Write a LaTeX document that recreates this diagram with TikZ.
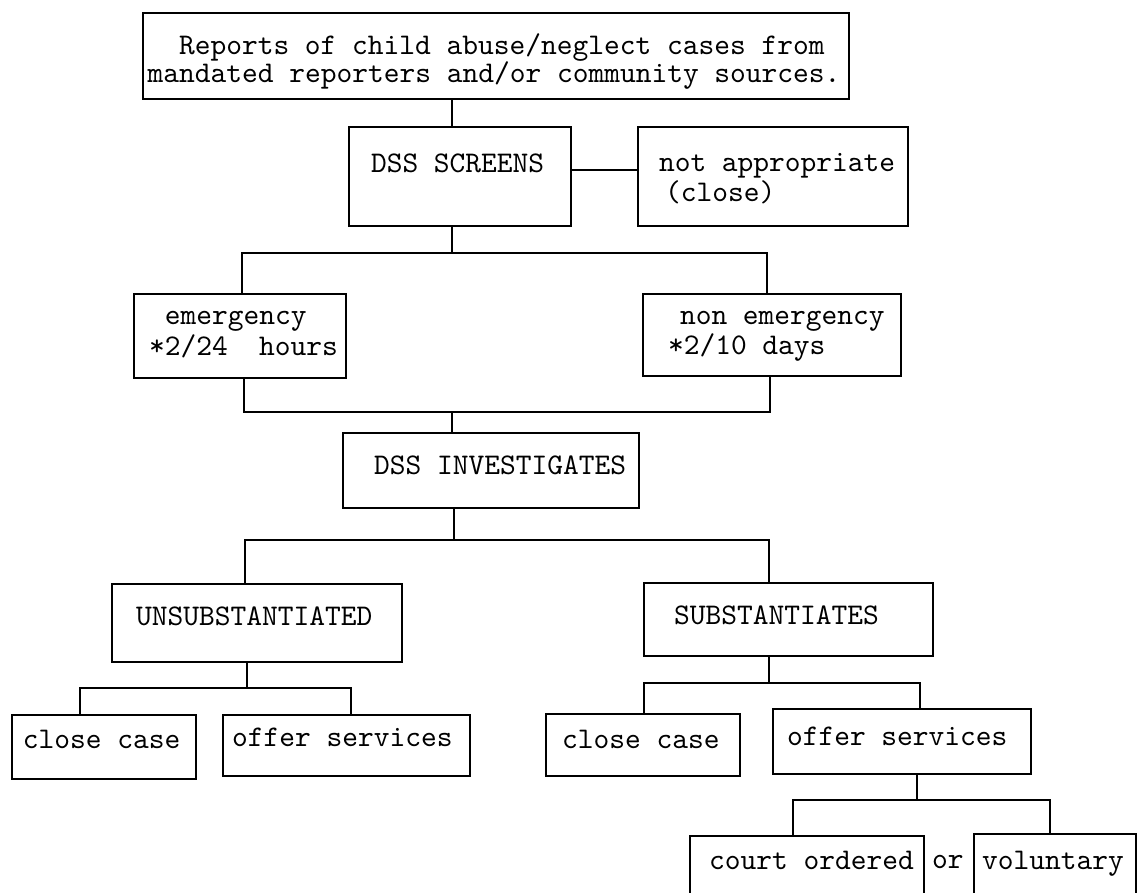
\documentclass[tikz,border=0pt]{standalone}
\font\tyface="[lmmono10-regular]" at 30pt
\fontdimen2\tyface=15.75pt
\fontdimen3\tyface=0pt
\fontdimen4\tyface=0pt
\newcommand{\tw}{\tyface\baselineskip=30pt}
\tikzset{
  blk/.style n args={4}{draw, anchor=north west, inner sep=0pt, align=left, font=\tw,
    text width=#1pt, execute at begin node={\leftskip=#2pt\spaceskip=0pt\xspaceskip=0pt},
    text height=#3pt, text depth=#4pt},
  txt/.style={anchor=base west, inner sep=0pt, font=\tw}
}
\begin{document}
\begin{tikzpicture}[x=1pt, y=-1pt, line width=2pt]
    \useasboundingbox (0,0) rectangle (1141,892);
    \node[blk={706}{4.5}{41}{45}] (rep) at (142,12) {\phantom{xx}Reports of child abuse/neglect cases from\\[-2pt]mandated reporters and/or community sources.};
    \node[blk={222}{22}{45}{54}] (scr) at (348,126) {DSS SCREENS};
    \node[blk={270}{21}{44}{55}] (na) at (637,126) {not appropriate\\\hspace*{6pt}(close)};
    \node[blk={212}{15}{30}{54}] (emer) at (133,293) {\phantom{x}emergency\\[1pt]*2/24\ \ hours};
    \node[blk={258}{25}{30}{52}] (nonem) at (642,293) {\hspace*{12pt}non emergency\\[0pt]*2/10 days};
    \node[blk={296}{31}{41}{34}] (inv) at (342,432) {DSS INVESTIGATES};
    \node[blk={290}{24}{41}{37}] (unsub) at (111,583) {UNSUBSTANTIATED};
    \node[blk={289}{30}{41}{32}] (sub) at (643,582) {SUBSTANTIATES};
    \node[blk={184}{11}{33}{31}] (cc1) at (11,714) {close case};
    \node[blk={247}{9}{31}{30}] (os1) at (222,714) {offer services};
    \node[blk={194}{16}{34}{28}] (cc2) at (545,713) {close case};
    \node[blk={258}{14}{36}{29}] (os2) at (772,708) {offer services};
    \node[blk={234}{19}{33}{80}] (co) at (689,835) {court ordered};
    \node[txt] (or) at (931,868) {or};
    \node[blk={162}{8}{35}{80}] (vol) at (973,833) {voluntary};

    \coordinate (aL) at (242,253); \coordinate (aM) at (452,253); \coordinate (aR) at (767,253);
    \coordinate (bL) at (244,412); \coordinate (bM) at (452,412); \coordinate (bR) at (770,412);
    \coordinate (cL) at (245,540); \coordinate (cM) at (454,540); \coordinate (cR) at (769,540);
    \coordinate (dL) at (80,688);  \coordinate (dM) at (247,688); \coordinate (dR) at (351,688);
    \coordinate (eL) at (644,683); \coordinate (eM) at (769,683); \coordinate (eR) at (920,683);
    \coordinate (fL) at (793,800); \coordinate (fM) at (917,800); \coordinate (fR) at (1050,800);

    \draw (rep.south -| aM) -- (scr.north -| aM);
    \draw ([yshift=7pt]scr.east) -- ([yshift=7pt]na.west);
    \draw (scr.south -| aM) -- (aM);
    \draw (emer.north -| aL) -- (aL) -- (aR) -- (nonem.north -| aR);
    \draw (emer.south -| bL) -- (bL) -- (bR) -- (nonem.south -| bR);
    \draw (bM) -- (inv.north -| bM);
    \draw (inv.south -| cM) -- (cM);
    \draw (unsub.north -| cL) -- (cL) -- (cR) -- (sub.north -| cR);
    \draw (unsub.south -| dM) -- (dM);
    \draw (cc1.north -| dL) -- (dL) -- (dR) -- (os1.north -| dR);
    \draw (sub.south -| eM) -- (eM);
    \draw (cc2.north -| eL) -- (eL) -- (eR) -- (os2.north -| eR);
    \draw (os2.south -| fM) -- (fM);
    \draw (co.north -| fL) -- (fL) -- (fR) -- (vol.north -| fR);
\end{tikzpicture}
\end{document}
